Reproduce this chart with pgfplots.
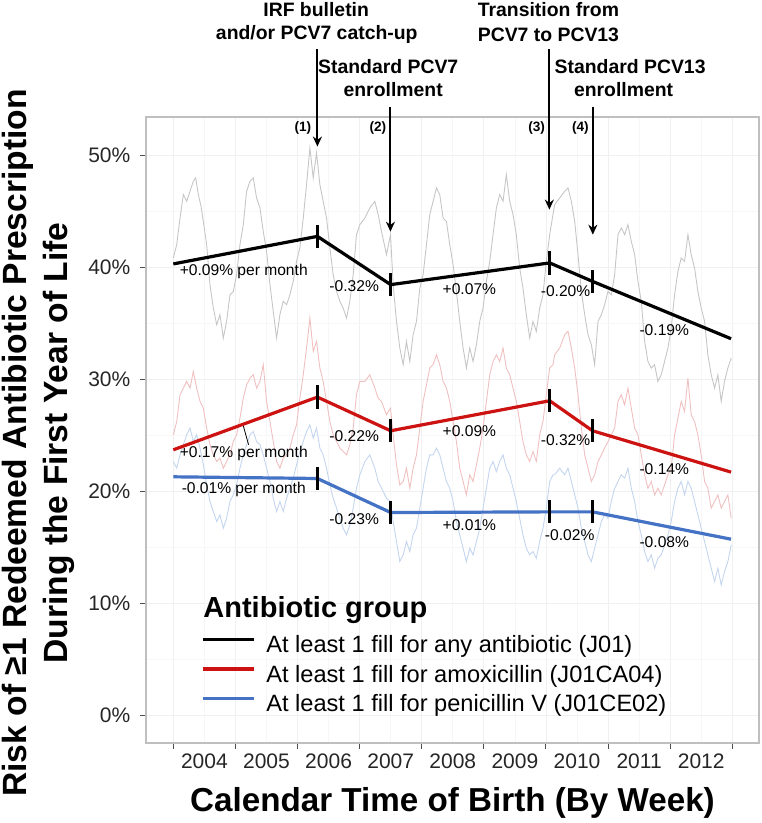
\documentclass[border=0pt]{standalone}
\usepackage{fontspec}
\setmainfont{Liberation Sans}
\usepackage{pgfplots}
\pgfplotsset{compat=1.18}
\usetikzlibrary{arrows.meta}
\definecolor{mainred}{RGB}{205,18,18}
\definecolor{mainblue}{RGB}{68,114,196}
\definecolor{bggrey}{RGB}{198,198,198}
\definecolor{bgred}{RGB}{240,192,192}
\definecolor{bgblue}{RGB}{196,213,238}
\begin{document}
\begin{tikzpicture}
\begin{axis}[
  scale only axis,
  width=306.5pt, height=313pt,
  xmin=2003.56, xmax=2013.43,
  ymin=-2.5, ymax=53.4,
  clip=false,
  axis line style={draw=gray!50, line width=0.6pt},
  tick pos=left,
  tick align=outside,
  major tick length=2.8pt,
  minor tick length=0pt,
  tick style={black!70, line width=0.5pt},
  xtick={2004,2005,2006,2007,2008,2009,2010,2011,2012,2013},
  x tick label as interval,
  xticklabels={2004,2005,2006,2007,2008,2009,2010,2011,2012,},
  minor x tick num=1,
  ytick={0,10,20,30,40,50},
  yticklabels={0\%,10\%,20\%,30\%,40\%,50\%},
  minor y tick num=1,
  grid=both,
  major grid style={gray!12, line width=0.4pt},
  minor grid style={gray!6, line width=0.3pt},
  ticklabel style={font=\fontsize{10.5}{12}\selectfont, text=black!85},
  yticklabel style={xshift=-1.5pt},
  xticklabel style={yshift=1pt},
  legend style={at={(0.091,0.172)}, anchor=north west, draw=none, fill=none,
    inner sep=0pt, outer sep=0pt, font=\fontsize{11.8}{13}\selectfont,
    row sep=3.75pt,
    nodes={inner sep=0pt, text height=8.6pt, text depth=2.4pt}},
  legend cell align=left,
  legend image code/.code={\draw[#1, line width=1.6pt] (0pt,3.4pt) -- (25.5pt,3.4pt); \path[draw=none] (0pt,0pt) -- (31.5pt,0pt);},
]
% ---- weekly background series (traced) ----
\addplot[bggrey, line width=0.45pt, forget plot] table {
2004.000 40.81
2004.054 41.99
2004.108 44.38
2004.161 46.47
2004.215 45.87
2004.269 46.77
2004.322 47.66
2004.360 47.96
2004.403 46.47
2004.446 45.43
2004.483 44.08
2004.537 42.00
2004.590 38.43
2004.644 36.34
2004.698 34.85
2004.751 35.74
2004.805 33.66
2004.858 35.15
2004.912 37.53
2004.966 37.83
2005.019 39.32
2005.073 42.00
2005.127 43.79
2005.180 46.77
2005.234 47.66
2005.287 47.96
2005.341 46.17
2005.395 45.28
2005.448 43.19
2005.502 41.40
2005.556 38.43
2005.609 36.04
2005.663 33.66
2005.716 35.74
2005.770 36.94
2005.824 36.64
2005.877 37.53
2005.931 38.72
2005.984 40.51
2006.038 41.70
2006.092 44.38
2006.145 47.36
2006.199 50.64
2006.253 47.96
2006.306 50.19
2006.360 47.36
2006.413 45.87
2006.467 44.38
2006.521 41.70
2006.574 39.32
2006.628 37.83
2006.681 36.94
2006.735 36.34
2006.789 35.45
2006.842 36.94
2006.896 39.32
2006.949 42.89
2007.003 43.79
2007.084 44.38
2007.164 45.28
2007.245 45.87
2007.298 44.68
2007.352 43.19
2007.432 41.11
2007.497 42.89
2007.540 38.43
2007.593 35.15
2007.647 32.77
2007.701 31.28
2007.754 33.36
2007.808 31.57
2007.861 33.96
2007.915 35.15
2007.969 38.13
2008.022 39.32
2008.076 42.00
2008.129 44.68
2008.183 45.87
2008.237 47.07
2008.290 46.47
2008.344 44.38
2008.398 44.08
2008.451 42.00
2008.505 40.21
2008.558 37.83
2008.612 35.15
2008.666 32.77
2008.719 30.98
2008.773 32.77
2008.826 31.57
2008.880 33.06
2008.934 35.15
2008.987 36.34
2009.041 38.72
2009.095 40.51
2009.148 42.89
2009.202 45.28
2009.255 46.47
2009.309 45.87
2009.362 48.26
2009.416 45.87
2009.470 44.68
2009.523 42.89
2009.577 39.91
2009.630 38.13
2009.684 35.74
2009.738 33.66
2009.791 35.15
2009.845 34.26
2009.899 36.34
2009.952 37.53
2010.006 40.51
2010.060 42.89
2010.113 44.68
2010.141 45.58
2010.221 46.17
2010.302 46.77
2010.355 47.07
2010.409 45.87
2010.463 44.08
2010.516 41.11
2010.570 37.83
2010.624 35.74
2010.677 33.96
2010.731 33.06
2010.784 31.28
2010.838 35.15
2010.892 35.74
2010.945 36.64
2010.999 37.83
2011.052 37.53
2011.106 39.32
2011.160 42.89
2011.213 43.49
2011.267 42.89
2011.320 43.79
2011.374 42.30
2011.428 41.11
2011.481 38.72
2011.535 36.94
2011.589 33.36
2011.642 31.57
2011.696 30.98
2011.749 31.28
2011.803 29.79
2011.856 30.38
2011.910 31.57
2011.964 32.77
2012.017 34.55
2012.071 37.53
2012.125 39.62
2012.178 40.81
2012.232 40.51
2012.286 42.89
2012.339 41.11
2012.393 39.91
2012.446 37.83
2012.500 36.34
2012.554 35.15
2012.607 32.17
2012.661 30.38
2012.715 29.19
2012.768 30.38
2012.822 28.00
2012.875 29.79
2012.929 30.98
2012.983 31.87
};
\addplot[bgred, line width=0.45pt, forget plot] table {
2004.000 25.02
2004.055 26.21
2004.108 28.60
2004.161 29.19
2004.215 29.79
2004.269 29.19
2004.322 30.68
2004.376 29.19
2004.430 28.00
2004.483 27.40
2004.537 25.62
2004.590 24.13
2004.644 23.23
2004.698 22.64
2004.751 22.94
2004.805 22.04
2004.858 22.64
2004.912 23.23
2004.966 24.42
2005.019 25.02
2005.073 26.51
2005.127 28.30
2005.180 29.49
2005.234 30.08
2005.287 30.38
2005.341 29.19
2005.395 29.79
2005.448 31.28
2005.502 28.00
2005.556 26.21
2005.609 24.42
2005.663 22.64
2005.716 22.04
2005.770 22.94
2005.824 23.23
2005.877 23.83
2005.931 25.02
2005.984 25.91
2006.038 28.30
2006.092 30.38
2006.145 32.77
2006.199 35.45
2006.253 32.47
2006.306 33.36
2006.360 30.98
2006.413 29.79
2006.467 28.00
2006.521 26.21
2006.574 25.02
2006.628 24.42
2006.681 23.83
2006.735 23.53
2006.789 23.23
2006.842 24.13
2006.896 25.62
2006.949 28.60
2007.003 29.79
2007.084 29.79
2007.164 30.38
2007.245 29.19
2007.298 28.30
2007.352 28.00
2007.432 26.81
2007.497 27.40
2007.540 25.02
2007.593 22.34
2007.647 20.55
2007.701 20.85
2007.754 22.04
2007.808 20.25
2007.861 22.04
2007.915 23.23
2007.969 25.62
2008.022 28.00
2008.076 29.49
2008.129 30.98
2008.183 31.28
2008.237 32.17
2008.290 31.28
2008.344 29.79
2008.398 29.19
2008.451 28.00
2008.505 26.21
2008.558 24.42
2008.612 22.04
2008.666 20.85
2008.719 19.66
2008.773 21.45
2008.826 20.85
2008.880 22.34
2008.934 23.83
2008.987 25.62
2009.041 28.00
2009.095 30.38
2009.148 31.57
2009.202 32.17
2009.255 31.57
2009.309 32.77
2009.362 30.98
2009.416 30.38
2009.470 29.19
2009.523 28.00
2009.577 26.21
2009.630 24.42
2009.684 23.23
2009.738 22.64
2009.791 23.53
2009.845 22.64
2009.899 25.02
2009.952 26.21
2010.006 28.60
2010.060 30.98
2010.113 31.28
2010.141 32.17
2010.221 32.77
2010.302 33.96
2010.355 34.26
2010.409 32.77
2010.463 30.98
2010.516 28.60
2010.570 25.62
2010.624 23.23
2010.677 22.04
2010.731 20.85
2010.784 21.45
2010.838 22.64
2010.892 23.23
2010.945 23.83
2010.999 24.42
2011.052 25.02
2011.106 25.62
2011.160 28.00
2011.213 28.60
2011.267 27.70
2011.320 29.19
2011.374 27.40
2011.428 25.62
2011.481 25.02
2011.535 23.23
2011.589 21.45
2011.642 20.25
2011.696 20.85
2011.749 19.66
2011.803 20.25
2011.856 19.66
2011.910 20.55
2011.964 21.45
2012.017 22.04
2012.071 25.02
2012.125 26.51
2012.178 28.00
2012.232 27.11
2012.286 30.08
2012.339 26.81
2012.393 26.21
2012.446 25.02
2012.500 23.23
2012.554 20.85
2012.607 20.25
2012.661 18.47
2012.715 19.06
2012.768 19.66
2012.822 18.47
2012.875 19.06
2012.929 19.66
2012.983 17.57
};
\addplot[bgblue, line width=0.45pt, forget plot] table {
2004.000 22.64
2004.055 22.04
2004.108 23.23
2004.161 24.13
2004.215 25.02
2004.269 25.62
2004.322 24.42
2004.376 25.02
2004.430 23.83
2004.483 22.34
2004.537 20.55
2004.590 19.06
2004.644 18.17
2004.698 17.28
2004.751 17.87
2004.805 16.68
2004.858 17.57
2004.912 19.06
2004.966 19.66
2005.019 20.55
2005.073 22.04
2005.127 23.23
2005.180 24.13
2005.234 25.02
2005.287 25.32
2005.341 24.42
2005.395 24.13
2005.448 23.23
2005.502 22.04
2005.556 20.85
2005.609 19.36
2005.663 18.17
2005.716 19.06
2005.770 18.17
2005.824 19.36
2005.877 20.25
2005.931 21.15
2005.984 22.34
2006.038 23.53
2006.092 24.42
2006.145 25.32
2006.199 25.91
2006.253 24.72
2006.306 25.62
2006.360 23.83
2006.413 23.23
2006.467 22.04
2006.521 20.55
2006.574 19.36
2006.628 18.47
2006.681 17.57
2006.735 16.68
2006.789 16.08
2006.842 16.98
2006.896 18.47
2006.949 20.25
2007.003 21.45
2007.084 22.64
2007.164 23.23
2007.245 22.04
2007.298 20.85
2007.352 20.25
2007.432 19.36
2007.497 19.06
2007.540 17.28
2007.593 15.49
2007.647 13.70
2007.701 14.30
2007.754 15.49
2007.808 14.59
2007.861 16.08
2007.915 16.68
2007.969 18.47
2008.022 20.25
2008.076 22.04
2008.129 23.23
2008.183 23.23
2008.237 23.83
2008.290 23.23
2008.344 22.04
2008.398 20.85
2008.451 20.25
2008.505 19.06
2008.558 17.28
2008.612 16.08
2008.666 14.89
2008.719 13.70
2008.773 14.89
2008.826 14.30
2008.880 15.49
2008.934 16.68
2008.987 18.47
2009.041 20.25
2009.095 22.04
2009.148 22.64
2009.202 21.74
2009.255 22.64
2009.309 23.23
2009.362 22.04
2009.416 21.45
2009.470 20.25
2009.523 19.06
2009.577 17.57
2009.630 16.08
2009.684 14.89
2009.738 14.30
2009.791 14.59
2009.845 14.00
2009.899 15.49
2009.952 16.68
2010.006 18.47
2010.060 20.85
2010.113 21.45
2010.141 21.45
2010.221 22.04
2010.302 21.45
2010.355 22.04
2010.409 20.85
2010.463 19.66
2010.516 18.47
2010.570 16.68
2010.624 15.49
2010.677 14.30
2010.731 13.70
2010.784 14.89
2010.838 16.08
2010.892 17.28
2010.945 17.87
2010.999 17.57
2011.052 19.06
2011.106 20.25
2011.160 20.85
2011.213 21.45
2011.267 21.15
2011.320 22.04
2011.374 20.25
2011.428 19.06
2011.481 17.28
2011.535 16.08
2011.589 14.59
2011.642 13.70
2011.696 14.30
2011.749 13.11
2011.803 14.00
2011.856 14.30
2011.910 15.19
2011.964 16.08
2012.017 17.28
2012.071 19.06
2012.125 20.25
2012.178 20.85
2012.232 19.66
2012.286 20.85
2012.339 20.25
2012.393 19.06
2012.446 17.87
2012.500 16.68
2012.554 15.49
2012.607 14.30
2012.661 13.11
2012.715 11.91
2012.768 13.11
2012.822 11.62
2012.875 12.81
2012.929 13.70
2012.983 15.19
};
% ---- segmented regression lines ----
\addplot[black, line width=1.6pt] coordinates {(2004.00,40.28) (2006.32,42.74) (2007.50,38.43) (2010.06,40.37) (2010.75,38.72) (2012.98,33.60)};
\addlegendentry{At least 1 fill for any antibiotic (J01)}
\addplot[mainred, line width=1.6pt] coordinates {(2004.00,23.68) (2006.32,28.39) (2007.50,25.38) (2010.06,28.06) (2010.75,25.38) (2012.98,21.69)};
\addlegendentry{At least 1 fill for amoxicillin (J01CA04)}
\addplot[mainblue, line width=1.6pt] coordinates {(2004.00,21.27) (2006.32,21.12) (2007.50,18.08) (2010.06,18.14) (2010.75,18.14) (2012.98,15.70)};
\addlegendentry{At least 1 fill for penicillin V (J01CE02)}
% ---- break-point bars ----
\addplot[only marks, mark=|, mark size=5.8pt, mark options={black, line width=1.4pt}, forget plot] coordinates {
(2006.32,42.74) (2007.50,38.43) (2010.06,40.37) (2010.75,38.72)
(2006.32,28.39) (2007.50,25.38) (2010.06,28.06) (2010.75,25.38)
(2006.32,21.12) (2007.50,18.08) (2010.06,18.14) (2010.75,18.14)};
% ---- slope labels ----
\begin{scope}[every node/.style={font=\fontsize{7.8}{9}\selectfont, inner sep=0pt}]
\node at (axis cs:2005.134,39.62) {+0.09\% per month};
\node at (axis cs:2006.912,38.27) {-0.32\%};
\node at (axis cs:2008.767,38.04) {+0.07\%};
\node at (axis cs:2010.315,37.89) {-0.20\%};
\node at (axis cs:2011.905,34.34) {-0.19\%};
\node at (axis cs:2005.134,23.32) {+0.17\% per month};
\node at (axis cs:2006.912,24.87) {-0.22\%};
\node at (axis cs:2008.767,25.32) {+0.09\%};
\node at (axis cs:2010.315,24.51) {-0.32\%};
\node at (axis cs:2011.905,21.96) {-0.14\%};
\node at (axis cs:2005.134,20.11) {-0.01\% per month};
\node at (axis cs:2006.912,17.49) {-0.23\%};
\node at (axis cs:2008.767,16.92) {+0.01\%};
\node at (axis cs:2010.382,16.09) {-0.02\%};
\node at (axis cs:2011.905,15.43) {-0.08\%};
\end{scope}
\draw[black, line width=0.4pt] (axis cs:2005.128,25.80) -- (axis cs:2005.212,24.13);
% ---- event arrows and labels ----
\begin{scope}[line width=1pt, -{Stealth[length=5pt,width=4.5pt]}]
\draw (axis cs:2006.32,59.43) -- (axis cs:2006.32,50.76);
\draw (axis cs:2007.496,54.33) -- (axis cs:2007.496,43.16);
\draw (axis cs:2010.055,59.43) -- (axis cs:2010.055,45.13);
\draw (axis cs:2010.755,54.33) -- (axis cs:2010.755,42.89);
\end{scope}
\begin{scope}[every node/.style={font=\bfseries\fontsize{9.7}{11}\selectfont, inner sep=0pt}]
\node at (axis cs:2006.30,63.0) {IRF bulletin};
\node at (axis cs:2006.31,60.77) {and/or PCV7 catch-up};
\node at (axis cs:2007.46,57.91) {Standard PCV7};
\node at (axis cs:2007.54,55.85) {enrollment};
\node at (axis cs:2010.04,63.0) {Transition from};
\node at (axis cs:2010.04,60.77) {PCV7 to PCV13};
\node at (axis cs:2011.355,57.91) {Standard PCV13};
\node at (axis cs:2011.25,55.85) {enrollment};
\end{scope}
\begin{scope}[every node/.style={font=\bfseries\fontsize{6.8}{8}\selectfont, inner sep=0pt}]
\node at (axis cs:2006.087,52.46) {(1)};
\node at (axis cs:2007.294,52.46) {(2)};
\node at (axis cs:2009.85,52.46) {(3)};
\node at (axis cs:2010.554,52.46) {(4)};
\end{scope}
\node[anchor=west, inner sep=0pt, font=\bfseries\fontsize{14.5}{16}\selectfont] at (axis cs:2004.478,9.4) {Antibiotic group};
\end{axis}
\node[rotate=90, align=center, font=\bfseries\fontsize{16.8}{20.5}\selectfont, inner sep=0pt]
  at ([xshift=-53.75pt,yshift=-6.5pt]current axis.west) {Risk of ≥1 Redeemed Antibiotic Prescription\\During the First Year of Life};
\node[font=\bfseries\fontsize{16.6}{19}\selectfont, inner sep=0pt] at ([yshift=-30pt]current axis.south) {Calendar Time of Birth (By Week)};
\pgfresetboundingbox
\path ([xshift=-73pt,yshift=-40pt]current axis.south west) rectangle ([xshift=1.5pt,yshift=58.5pt]current axis.north east);
\end{tikzpicture}
\end{document}
